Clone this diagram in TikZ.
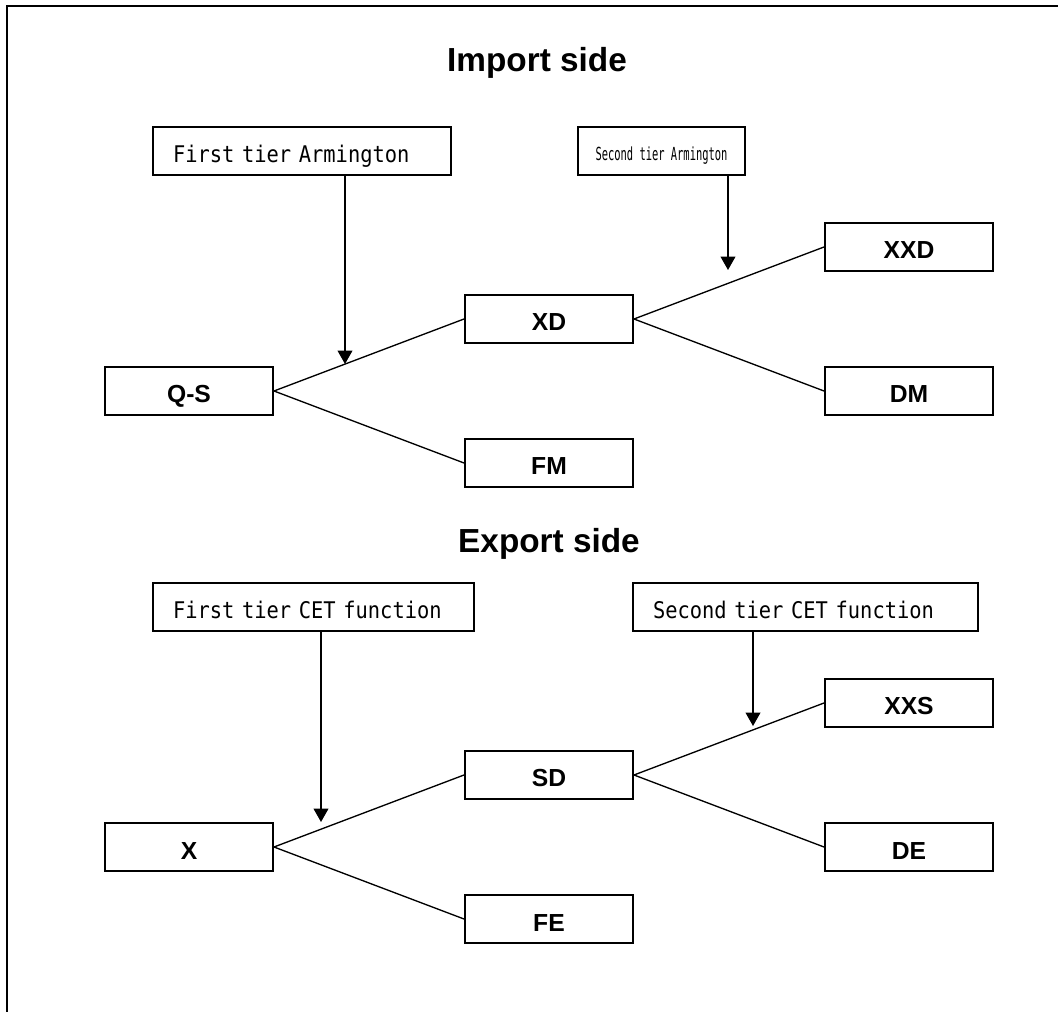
\documentclass[tikz,border=0pt]{standalone}
\usepackage{fontspec}
\setmainfont{Liberation Sans}
\newfontfamily\monoA[FakeStretch=0.89]{DejaVu Sans Mono}
\newfontfamily\monoB[FakeStretch=0.58]{DejaVu Sans Mono}
\usetikzlibrary{arrows.meta,calc}
\begin{document}
\begin{tikzpicture}[x=0.75pt,y=-0.75pt,
  varbox/.style={draw,line width=1.5pt,minimum width=126pt,minimum height=36pt,inner sep=0pt,
    font=\fontsize{18.5pt}{20pt}\selectfont\bfseries,text height=18pt,text depth=0pt},
  tierbox/.style={draw,line width=1.5pt,minimum height=36pt,inner xsep=15pt,inner ysep=0pt,
    align=left,font=\monoA\fontsize{17.2pt}{20pt}\selectfont,text height=19pt,text depth=1pt},
  smallbox/.style={draw,line width=1.5pt,minimum height=36pt,minimum width=125.25pt,inner sep=0pt,
    font=\monoB\fontsize{13.5pt}{15pt}\selectfont,text height=15pt,text depth=0pt},
  link/.style={line width=1pt},
  drop/.style={line width=1.2pt,-{Triangle[width=11pt,length=10pt]}},
  title/.style={font=\fontsize{25pt}{28pt}\selectfont\bfseries,anchor=base,inner sep=0pt}]
\useasboundingbox (0,0) rectangle (1058,1012);
\draw[line width=1.5pt] (1058,6) -- (7,6) -- (7,1012);

% Import side
\node[title] (t1) at (537,71.7) {Import side};
\node[tierbox,text width=193.5pt] (fa) at (302,151) {First tier Armington};
\node[smallbox] (sa) at (661.5,151) {Second tier Armington};
\node[varbox] (qs) at (189,391) {Q-S};
\node[varbox] (xd) at (549,319) {XD};
\node[varbox] (fm) at (549,463) {FM};
\node[varbox] (xxd) at (909,247) {XXD};
\node[varbox] (dm) at (909,391) {DM};
\draw[link] (qs.east) -- (xd.west);
\draw[link] (qs.east) -- (fm.west);
\draw[link] (xd.east) -- (xxd.west);
\draw[link] (xd.east) -- (dm.west);
\coordinate (p1) at (345,364);
\coordinate (p2) at (728,270);
\draw[drop] (p1 |- fa.south) -- (p1);
\draw[drop] (p2 |- sa.south) -- (p2);

% Export side
\node[title] (t2) at (549,552.7) {Export side};
\node[tierbox,text width=210.75pt] (fc) at (313.5,607) {First tier CET function};
\node[tierbox,text width=228.75pt] (sc) at (805.5,607) {Second tier CET function};
\node[varbox] (x) at (189,847) {X};
\node[varbox] (sd) at (549,775) {SD};
\node[varbox] (fe) at (549,919) {FE};
\node[varbox] (xxs) at (909,703) {XXS};
\node[varbox] (de) at (909,847) {DE};
\draw[link] (x.east) -- (sd.west);
\draw[link] (x.east) -- (fe.west);
\draw[link] (sd.east) -- (xxs.west);
\draw[link] (sd.east) -- (de.west);
\coordinate (p3) at (321,822);
\coordinate (p4) at (753,726);
\draw[drop] (p3 |- fc.south) -- (p3);
\draw[drop] (p4 |- sc.south) -- (p4);
\end{tikzpicture}
\end{document}
